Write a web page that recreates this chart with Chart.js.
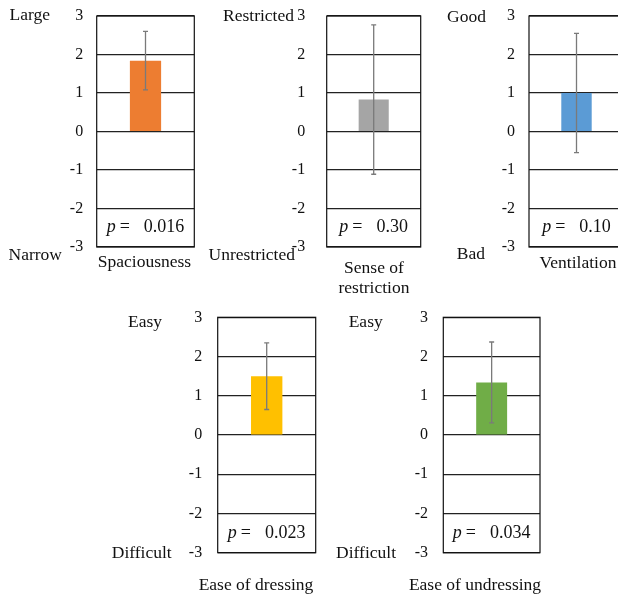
<!DOCTYPE html>
<html>
<head>
<meta charset="utf-8">
<script src="https://cdn.jsdelivr.net/npm/chart.js@4.4.1/dist/chart.umd.min.js"></script>
<style>
    html, body { margin: 0; padding: 0; background: #fff; width: 618px; height: 599px; overflow: hidden; position: relative; }
    canvas { position: absolute; }
</style>
</head>
<body>
<canvas id="c0"></canvas>
<canvas id="c1"></canvas>
<canvas id="c2"></canvas>
<canvas id="c3"></canvas>
<canvas id="c4"></canvas>
<script>
// data
const categories = ['Spaciousness', ['Sense of', 'restriction'], 'Ventilation', 'Ease of dressing', 'Ease of undressing'];
const means = [1.84, 0.83, 1.0, 1.5, 1.34];
const errors = [0.76, 1.94, 1.55, 0.85, 1.03];
const pValues = ['0.016', '0.30', '0.10', '0.023', '0.034'];
const highLabels = ['Large', 'Restricted', 'Good', 'Easy', 'Easy'];
const lowLabels = ['Narrow', 'Unrestricted', 'Bad', 'Difficult', 'Difficult'];
const barColors = ['#ED7D31', '#A5A5A5', '#5B9BD5', '#FFC000', '#70AD47'];
const yMin = -3;
const yMax = 3;

// page layout of each small panel (page pixels)
const frames = [
    {x: 0,   y: 0,   w: 205, h: 300, area: [96.7, 194.3, 16, 247],    tickPad: 13.5, hi: [50, 15],    lo: [62, 255],    title: [144.5, 262]},
    {x: 205, y: 0,   w: 220, h: 300, area: [326.7, 420.7, 16, 247],   tickPad: 21.5, hi: [294, 16],   lo: [295, 255],   title: [374, 268]},
    {x: 425, y: 0,   w: 200, h: 300, area: [529, 624, 16, 247],       tickPad: 14,   hi: [486, 17],   lo: [485, 254],   title: [578, 263]},
    {x: 110, y: 300, w: 220, h: 299, area: [217.7, 315.7, 317.3, 552.7], tickPad: 15.5, hi: [162, 322], lo: [171.7, 553], title: [256, 585]},
    {x: 330, y: 300, w: 230, h: 299, area: [443.3, 540, 317.3, 552.7],   tickPad: 15.3, hi: [382.7, 322], lo: [396, 553], title: [475, 585]}
];

const FONT = "'Liberation Serif', 'Times New Roman', serif";
const YAXIS_W = 60;

const panelPlugin = {
    id: 'panelDecor',
    afterDatasetsDraw(chart) {
        const i = chart.options.plugins.panelDecor.index;
        const f = frames[i];
        const ctx = chart.ctx;
        const y = chart.scales.y;
        const a = chart.chartArea;

        // error bar
        const bar = chart.getDatasetMeta(0).data[0];
        const yTop = y.getPixelForValue(means[i] + errors[i]);
        const yBot = y.getPixelForValue(means[i] - errors[i]);
        ctx.save();
        ctx.strokeStyle = '#7a7a7a';
        ctx.lineWidth = 1.3;
        ctx.beginPath();
        ctx.moveTo(bar.x, yTop);
        ctx.lineTo(bar.x, yBot);
        ctx.moveTo(bar.x - 2.5, yTop);
        ctx.lineTo(bar.x + 2.5, yTop);
        ctx.moveTo(bar.x - 2.5, yBot);
        ctx.lineTo(bar.x + 2.5, yBot);
        ctx.stroke();

        // frame
        ctx.strokeStyle = '#111';
        ctx.lineWidth = 1.2;
        ctx.strokeRect(a.left, a.top, a.right - a.left, a.bottom - a.top);

        // p value in the lowest band
        const py = (y.getPixelForValue(-2) + y.getPixelForValue(-3)) / 2;
        ctx.fillStyle = '#111';
        ctx.textBaseline = 'middle';
        ctx.textAlign = 'left';
        ctx.font = 'italic 18px ' + FONT;
        const wP = ctx.measureText('p').width;
        ctx.font = '18px ' + FONT;
        const wEq = ctx.measureText('=').width;
        const wNum = ctx.measureText(pValues[i]).width;
        const total = wP + 4 + wEq + 14 + wNum;
        let px = (a.left + a.right) / 2 - total / 2;
        ctx.font = 'italic 18px ' + FONT;
        ctx.fillText('p', px, py);
        px += wP + 4;
        ctx.font = '18px ' + FONT;
        ctx.fillText('=', px, py);
        px += wEq + 14;
        ctx.fillText(pValues[i], px, py);

        // scale end labels
        ctx.font = '17.5px ' + FONT;
        ctx.textAlign = 'right';
        ctx.fillText(highLabels[i], f.hi[0] - f.x, f.hi[1] - f.y);
        ctx.fillText(lowLabels[i], f.lo[0] - f.x, f.lo[1] - f.y);

        // category title under the panel
        ctx.textAlign = 'center';
        const label = chart.data.labels[0];
        const lines = Array.isArray(label) ? label : [label];
        lines.forEach((t, k) => {
            ctx.fillText(t, f.title[0] - f.x, f.title[1] - f.y + k * 20);
        });
        ctx.restore();
    }
};

frames.forEach((f, i) => {
    const canvas = document.getElementById('c' + i);
    canvas.style.left = f.x + 'px';
    canvas.style.top = f.y + 'px';
    canvas.style.width = f.w + 'px';
    canvas.style.height = f.h + 'px';
    canvas.width = f.w;
    canvas.height = f.h;

    const [l, r, t, b] = f.area;
    new Chart(canvas.getContext('2d'), {
        type: 'bar',
        data: {
            labels: [categories[i]],
            datasets: [{
                data: [means[i]],
                backgroundColor: barColors[i],
                borderWidth: 0,
                barPercentage: 0.32,
                categoryPercentage: 1
            }]
        },
        options: {
            responsive: false,
            animation: false,
            devicePixelRatio: 1,
            layout: {
                padding: {
                    left: l - f.x - YAXIS_W,
                    right: f.x + f.w - r,
                    top: t - f.y,
                    bottom: f.y + f.h - b
                }
            },
            plugins: {
                legend: {display: false},
                tooltip: {enabled: false},
                panelDecor: {index: i}
            },
            scales: {
                x: {display: false},
                y: {
                    min: yMin,
                    max: yMax,
                    afterFit: (s) => {
                        s.width = YAXIS_W;
                        s.paddingTop = 0;
                        s.paddingBottom = 0;
                    },
                    ticks: {
                        stepSize: 1,
                        padding: f.tickPad,
                        color: '#111',
                        font: {family: FONT, size: 16}
                    },
                    grid: {
                        color: '#222',
                        lineWidth: 1.2,
                        drawTicks: false
                    },
                    border: {display: false}
                }
            }
        },
        plugins: [panelPlugin]
    });
});
</script>
</body>
</html>
